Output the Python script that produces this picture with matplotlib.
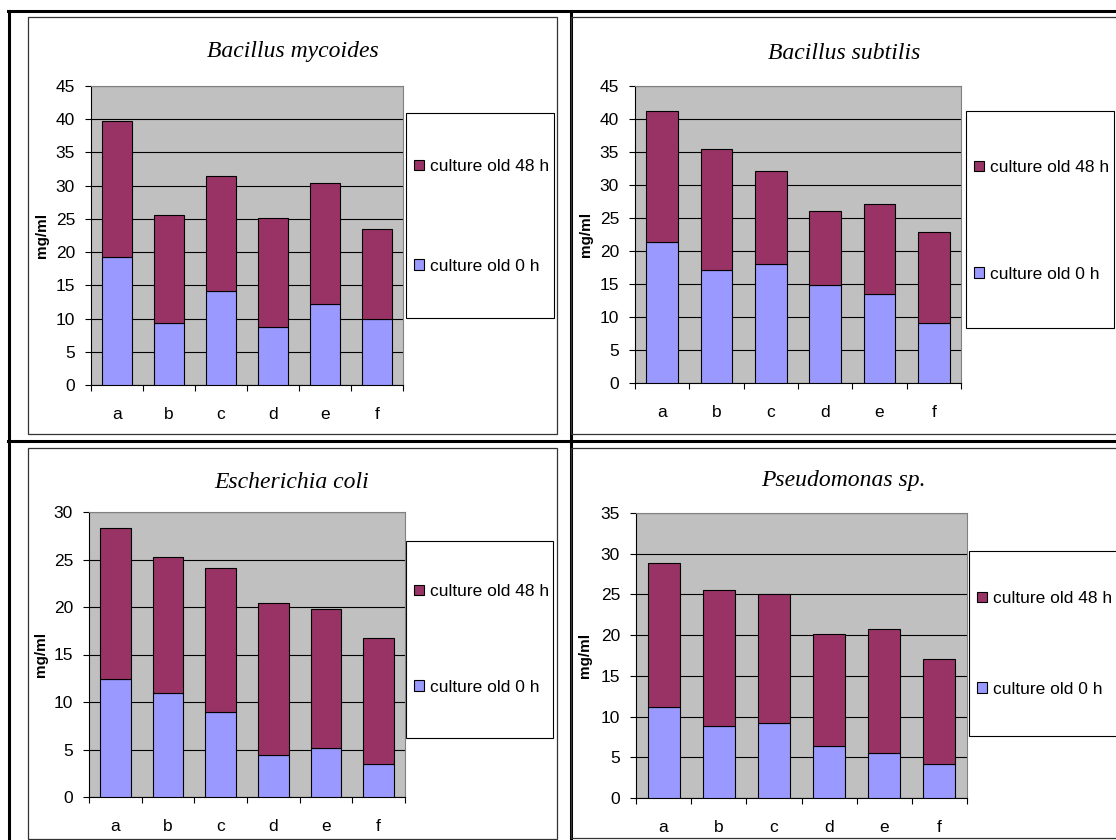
import matplotlib
matplotlib.use('Agg')
import matplotlib.pyplot as plt
from matplotlib.patches import Rectangle, Patch
from matplotlib.lines import Line2D
import numpy as np

plt.rcParams['font.family'] = ['Liberation Sans', 'DejaVu Sans']

# ---------------- data ----------------
categories = ['a', 'b', 'c', 'd', 'e', 'f']
titles = ['Bacillus mycoides', 'Bacillus subtilis', 'Escherichia coli', 'Pseudomonas sp.']
label_48h = 'culture old 48 h'
label_0h = 'culture old 0 h'
y_label = 'mg/ml'

mycoides_0h = [19.2, 9.3, 14.2, 8.7, 12.2, 10.0]
mycoides_48h = [20.6, 16.35, 17.3, 16.4, 18.2, 13.45]
subtilis_0h = [21.3, 17.05, 18.0, 14.9, 13.5, 9.1]
subtilis_48h = [19.9, 18.45, 14.1, 11.2, 13.6, 13.85]
coli_0h = [12.4, 11.0, 9.0, 4.45, 5.2, 3.5]
coli_48h = [15.9, 14.3, 15.1, 15.95, 14.6, 13.2]
pseudo_0h = [11.2, 8.8, 9.2, 6.4, 5.5, 4.2]
pseudo_48h = [17.6, 16.7, 15.8, 13.7, 15.2, 12.9]
y_max = [45, 45, 30, 35]

series_0h = [mycoides_0h, subtilis_0h, coli_0h, pseudo_0h]
series_48h = [mycoides_48h, subtilis_48h, coli_48h, pseudo_48h]

# ---------------- layout (pixels) ----------------
W, H = 1116, 840
plot_boxes = [(91, 86, 403, 385), (635, 86, 961, 383), (89, 512, 405, 797), (636, 513, 967, 798)]
legend_boxes = [(406, 113, 554, 318), (966, 111, 1114, 328), (406, 541, 553, 738), (969, 551, 1117, 736)]
legend_entry_y = [(166, 267), (167, 275), (591, 688), (598, 690)]
title_pos = [(292.5, 57), (844, 59), (292, 488), (843, 486)]
ylabel_x = [42, 586, 41, 585]
panel_boxes = [(28, 17, 557, 434), (571, 17, 1130, 434), (28, 448, 557, 839), (571, 448, 1130, 838)]

C0 = '#9999FF'
C48 = '#993366'
FS = 12.5

fig = plt.figure(figsize=(W / 100, H / 100), dpi=100)
fig.patch.set_facecolor('white')


def fx(px):
    return px / W


def fy(py):
    return 1 - py / H


# table lines
for (x0, y0, x1, y1) in [(8, 11, 1116, 11), (9, 11, 9, 840), (570.5, 11, 570.5, 840), (8, 441, 1116, 441)]:
    fig.add_artist(Line2D([fx(x0), fx(x1)], [fy(y0), fy(y1)], transform=fig.transFigure,
                          color='black', lw=2.2, zorder=-3))

# chart area boxes
for (x0, y0, x1, y1) in panel_boxes:
    fig.add_artist(Rectangle((fx(x0), fy(y1)), fx(x1) - fx(x0), fy(y0) - fy(y1),
                             transform=fig.transFigure, facecolor='none',
                             edgecolor='#333333', lw=0.9, zorder=-2))

for i in range(4):
    x0, y0, x1, y1 = plot_boxes[i]
    ax = fig.add_axes([fx(x0), fy(y1), fx(x1) - fx(x0), fy(y0) - fy(y1)])
    ax.set_facecolor('#C0C0C0')
    ax.set_axisbelow(True)
    xs = np.arange(len(categories))
    b0 = ax.bar(xs, series_0h[i], width=0.58, color=C0, edgecolor='black', linewidth=0.8, zorder=3)
    b48 = ax.bar(xs, series_48h[i], bottom=series_0h[i], width=0.58, color=C48,
                 edgecolor='black', linewidth=0.8, zorder=3)
    ax.set_xlim(-0.5, len(categories) - 0.5)
    ax.set_ylim(0, y_max[i])
    ax.set_yticks(np.arange(0, y_max[i] + 1, 5))
    ax.set_xticks(xs)
    ax.set_xticklabels(categories)
    ax.set_xticks(np.arange(-0.5, len(categories), 1), minor=True)
    ax.tick_params(axis='x', which='major', length=0, pad=15.5, labelsize=FS)
    ax.tick_params(axis='x', which='minor', length=4.3, width=0.8, direction='out')
    ax.tick_params(axis='y', length=4.3, width=0.8, direction='out', pad=7.2, labelsize=FS)
    ax.grid(axis='y', color='black', lw=0.8)
    ax.spines['left'].set_color('black')
    ax.spines['bottom'].set_color('black')
    ax.spines['left'].set_linewidth(0.8)
    ax.spines['bottom'].set_linewidth(0.8)
    for s in ('top', 'right'):
        ax.spines[s].set_color('#808080')
        ax.spines[s].set_linewidth(0.8)

    ax.set_ylabel(y_label, fontsize=11, fontweight='bold')
    ax.yaxis.set_label_coords((ylabel_x[i] - x0) / (x1 - x0), 0.5)
    ax.yaxis.label.set_verticalalignment('center')

    # legend frame
    lx0, ly0, lx1, ly1 = legend_boxes[i]
    fig.add_artist(Rectangle((fx(lx0), fy(ly1)), fx(lx1) - fx(lx0), fy(ly0) - fy(ly1),
                             transform=fig.transFigure, facecolor='white',
                             edgecolor='black', lw=0.8, zorder=-1))
    e1, e2 = legend_entry_y[i]
    spacing = ((e2 - e1) - 16.3) / (FS * 100 / 72)
    handles = [Patch(facecolor=C48, edgecolor='black', lw=0.8),
               Patch(facecolor=C0, edgecolor='black', lw=0.8)]
    ax.legend(handles, [label_48h, label_0h], loc='center left',
              bbox_to_anchor=(fx(lx0 + 8), fy((e1 + e2) / 2)), bbox_transform=fig.transFigure,
              frameon=False, fontsize=FS, handlelength=0.58, handleheight=0.58,
              handletextpad=0.35, labelspacing=spacing, borderpad=0, borderaxespad=0)

    tx, ty = title_pos[i]
    fig.text(fx(tx), fy(ty), titles[i], ha='center', va='baseline',
             family='Liberation Serif', style='italic', fontsize=17)

fig.savefig('out.png', dpi=100, facecolor='white')
